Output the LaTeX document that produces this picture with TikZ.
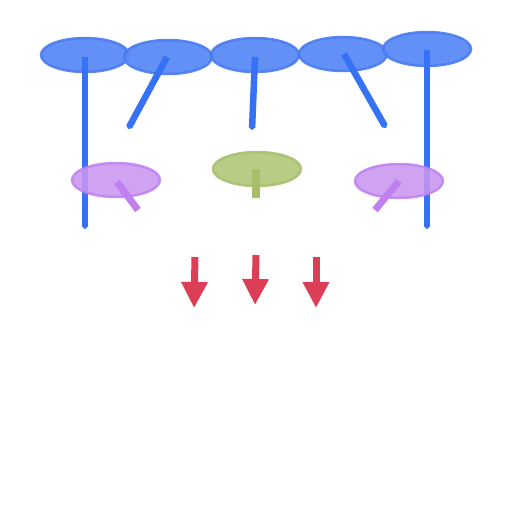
\documentclass[tikz,border=0pt]{standalone}
\usetikzlibrary{arrows.meta,shapes.geometric}
\definecolor{bfill}{HTML}{5B8AF5}
\definecolor{bline}{HTML}{4A7CF0}
\definecolor{bshaft}{HTML}{3572F5}
\definecolor{pfill}{HTML}{C896F0}
\definecolor{pline}{HTML}{C080F0}
\definecolor{pshaft}{HTML}{C080F0}
\definecolor{gfill}{HTML}{B5C97F}
\definecolor{gline}{HTML}{A8C070}
\definecolor{gshaft}{HTML}{A6C06A}
\definecolor{rarrow}{HTML}{DC3F55}
\tikzset{
  blob/.style={ellipse,minimum width=88pt,minimum height=34pt,inner sep=0pt,line width=2.5pt},
  bluebl/.style={blob,draw=bline,fill=bfill,draw opacity=0.9,fill opacity=0.95},
  purpbl/.style={blob,draw=pline,fill=pfill,draw opacity=0.85,fill opacity=0.88},
  greenbl/.style={blob,draw=gline,fill=gfill,draw opacity=0.9,fill opacity=0.95},
  bshaftst/.style={draw=bshaft,line width=6.5pt,-{Triangle[width=7pt,length=3pt]}},
  pshaftst/.style={draw=pshaft,line width=7pt},
  gshaftst/.style={draw=gshaft,line width=8pt},
  redarr/.style={draw=rarrow,line width=7pt,-{Triangle[width=25pt,length=26pt]}}
}
\begin{document}
\begin{tikzpicture}[x=1pt,y=-1pt]
\useasboundingbox (0,0) rectangle (512,512);
% blue
\node[bluebl] (b1) at (85,55) {};
\node[bluebl] (b2) at (168,57) {};
\node[bluebl] (b3) at (255,55) {};
\node[bluebl] (b4) at (343,54) {};
\node[bluebl] (b5) at (427,49) {};
% shaft ends
\coordinate (e1) at (85,229);
\coordinate (e2) at (128,129);
\coordinate (e3) at (252,130);
\coordinate (e4) at (386,128);
\coordinate (e5) at (427,229);
\draw[bshaftst] (85,57) -- (e1);
\draw[bshaftst] (167,57) -- (e2);
\draw[bshaftst] (255,57) -- (e3);
\draw[bshaftst] (344,54) -- (e4);
\draw[bshaftst] (427,50) -- (e5);
% lower blobs
\node[purpbl] (p1) at (116,180) {};
\node[greenbl] (g1) at (257,169) {};
\node[purpbl] (p2) at (399,181) {};
\coordinate (f1) at (138,210);
\coordinate (f2) at (375,210);
\coordinate (f3) at (256,198);
\draw[pshaftst] (117,182) -- (f1);
\draw[pshaftst] (399,181) -- (f2);
\draw[gshaftst] (256,169) -- (f3);
% red arrows
\coordinate (r1s) at (195,257);
\coordinate (r1e) at (194,308);
\coordinate (r2s) at (256,255);
\coordinate (r2e) at (255,305);
\coordinate (r3s) at (316,257);
\coordinate (r3e) at (316,308);
\draw[redarr] (r1s) -- (r1e);
\draw[redarr] (r2s) -- (r2e);
\draw[redarr] (r3s) -- (r3e);
\end{tikzpicture}
\end{document}
